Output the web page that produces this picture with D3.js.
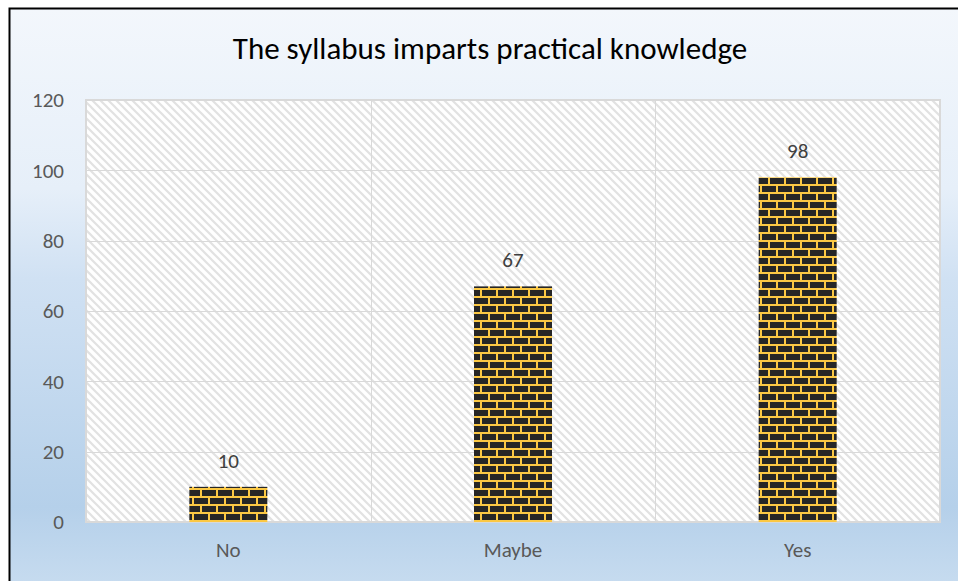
<!DOCTYPE html>
<html>
<head>
<meta charset="utf-8">
<script src="https://cdn.jsdelivr.net/npm/d3@7"></script>
<style>
  html, body { margin: 0; padding: 0; background: #fff; }
  svg { display: block; font-family: Carlito, Lato, "Open Sans", sans-serif; }
</style>
</head>
<body>
<div id="chart"></div>
<script>
/* global d3 */
const title = 'The syllabus imparts practical knowledge';
const categories = ['No', 'Maybe', 'Yes'];
const values = [10, 67, 98];
const yTicks = [0, 20, 40, 60, 80, 100, 120];

const W = 958;
const H = 581;
// plot area box
const plot = { left: 86, top: 100, right: 940, bottom: 522 };
const FONT = 'Carlito, Lato, "Open Sans", sans-serif';

const svg = d3.select('#chart').append('svg')
  .attr('width', W)
  .attr('height', H);

const defs = svg.append('defs');

// chart background gradient
const grad = defs.append('linearGradient')
  .attr('id', 'bg')
  .attr('x1', 0).attr('y1', 0).attr('x2', 0).attr('y2', 1);
[
  ['0%', '#f3f7fc'],
  ['30%', '#e6eff9'],
  ['45%', '#d0e1f3'],
  ['83%', '#b5d0ea'],
  ['100%', '#ccdff1'],
].forEach(([o, c]) => grad.append('stop').attr('offset', o).attr('stop-color', c));

// wide downward diagonal in the plot area
const hatch = defs.append('pattern')
  .attr('id', 'hatch')
  .attr('patternUnits', 'userSpaceOnUse')
  .attr('width', 8).attr('height', 8);
hatch.append('rect').attr('width', 8).attr('height', 8).attr('fill', '#ffffff');
hatch.append('path')
  .attr('d', 'M-2,-2 L10,10 M-2,6 L2,10 M6,-2 L10,2')
  .attr('stroke', '#e2e2e2')
  .attr('stroke-width', 2.2);

// brick fill of the bars
const brick = defs.append('pattern')
  .attr('id', 'brick')
  .attr('patternUnits', 'userSpaceOnUse')
  .attr('width', 16).attr('height', 16);
brick.append('rect').attr('width', 16).attr('height', 16).attr('fill', '#fbc844');
brick.append('rect').attr('x', 2).attr('y', 2).attr('width', 14).attr('height', 6).attr('fill', '#262626');
brick.append('rect').attr('x', 10).attr('y', 10).attr('width', 14).attr('height', 6).attr('fill', '#262626');
brick.append('rect').attr('x', -6).attr('y', 10).attr('width', 14).attr('height', 6).attr('fill', '#262626');

// chart area with black frame running off the right/bottom edge
svg.append('rect')
  .attr('x', 9.5).attr('y', 8.5)
  .attr('width', W + 20).attr('height', H + 20)
  .attr('fill', 'url(#bg)')
  .attr('stroke', '#000')
  .attr('stroke-width', 2);

svg.append('text')
  .attr('x', 490)
  .attr('y', 59)
  .attr('text-anchor', 'middle')
  .attr('font-size', 31)
  .attr('fill', '#000')
  .text(title);

const x = d3.scaleBand()
  .domain(categories)
  .range([plot.left, plot.right]);

const y = d3.scaleLinear()
  .domain([0, 120])
  .range([plot.bottom, plot.top]);

const $g = svg.append('g');

$g.append('rect')
  .attr('x', plot.left).attr('y', plot.top)
  .attr('width', plot.right - plot.left)
  .attr('height', plot.bottom - plot.top)
  .attr('fill', 'url(#hatch)');

// horizontal gridlines
$g.selectAll('.grid-h')
  .data(yTicks)
  .join('line')
  .attr('class', 'grid-h')
  .attr('x1', plot.left).attr('x2', plot.right)
  .attr('y1', d => Math.round(y(d)) + 0.5)
  .attr('y2', d => Math.round(y(d)) + 0.5)
  .attr('stroke', '#d9d9d9')
  .attr('stroke-width', 1);

// vertical gridlines at category boundaries
$g.selectAll('.grid-v')
  .data(categories.slice(1))
  .join('line')
  .attr('class', 'grid-v')
  .attr('x1', d => Math.round(x(d)) + 0.5)
  .attr('x2', d => Math.round(x(d)) + 0.5)
  .attr('y1', plot.top).attr('y2', plot.bottom)
  .attr('stroke', '#d9d9d9');

$g.append('rect')
  .attr('x', plot.left).attr('y', plot.top)
  .attr('width', plot.right - plot.left)
  .attr('height', plot.bottom - plot.top)
  .attr('fill', 'none')
  .attr('stroke', '#d9d9d9')
  .attr('stroke-width', 2);

// bars
const barW = x.bandwidth() * 0.274;
$g.selectAll('.bar')
  .data(values)
  .join('rect')
  .attr('class', 'bar')
  .attr('x', (d, i) => x(categories[i]) + x.bandwidth() / 2 - barW / 2)
  .attr('y', d => y(d))
  .attr('width', barW)
  .attr('height', d => y(0) - y(d))
  .attr('fill', 'url(#brick)');

// data labels
$g.selectAll('.label')
  .data(values)
  .join('text')
  .attr('class', 'label')
  .attr('x', (d, i) => x(categories[i]) + x.bandwidth() / 2)
  .attr('y', d => y(d) - 19)
  .attr('text-anchor', 'middle')
  .attr('font-size', 21)
  .attr('fill', '#404040')
  .text(d => d);

// y axis labels
const yAxis = d3.axisLeft(y).tickValues(yTicks).tickSize(0).tickPadding(22);
$g.append('g')
  .attr('transform', `translate(${plot.left},0)`)
  .call(yAxis)
  .attr('font-family', FONT)
  .attr('font-size', 21)
  .call(s => s.select('.domain').remove())
  .call(s => s.selectAll('text').attr('fill', '#595959'));

// x axis labels
const xAxis = d3.axisBottom(x).tickSize(0).tickPadding(20);
$g.append('g')
  .attr('transform', `translate(0,${plot.bottom})`)
  .call(xAxis)
  .attr('font-family', FONT)
  .attr('font-size', 21)
  .call(s => s.select('.domain').remove())
  .call(s => s.selectAll('text').attr('fill', '#595959'));
</script>
</body>
</html>
